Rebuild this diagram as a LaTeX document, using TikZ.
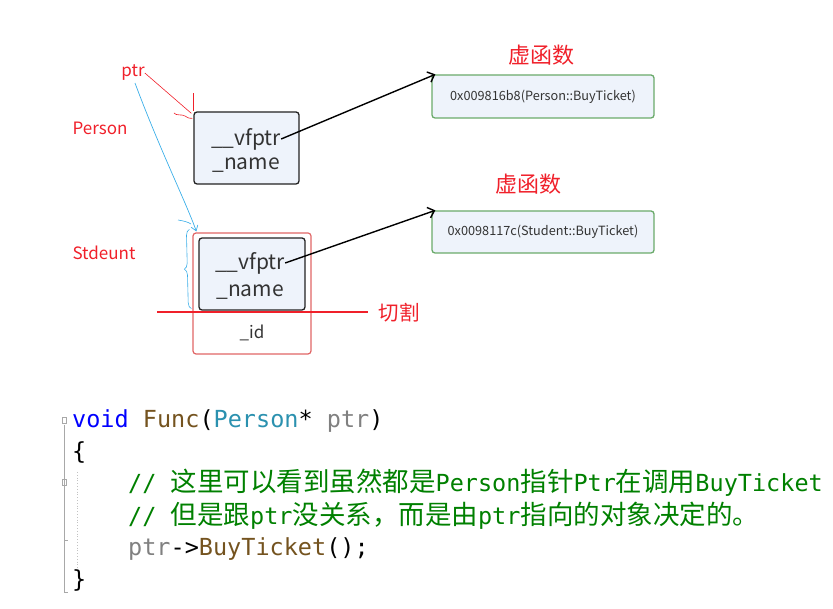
\documentclass[tikz,border=0pt]{standalone}
\usepackage{fontspec}
\setmainfont{Noto Sans CJK SC}
\setmonofont{DejaVu Sans Mono}
\newfontfamily\cjkc{Noto Sans CJK SC}
\usetikzlibrary{arrows.meta,decorations.pathreplacing,calc}
\definecolor{boxfill}{HTML}{EEF3FB}
\definecolor{boxline}{HTML}{222222}
\definecolor{redlab}{HTML}{F0202A}
\definecolor{greenbox}{HTML}{6AAA6A}
\definecolor{redbox}{HTML}{E06666}
\definecolor{bluel}{HTML}{3BAEE8}
\definecolor{kw}{HTML}{0000FF}
\definecolor{fn}{HTML}{74531F}
\definecolor{ty}{HTML}{2B91AF}
\definecolor{var}{HTML}{808080}
\definecolor{cmt}{HTML}{008000}
\definecolor{gut}{HTML}{A8A8A8}
\tikzset{
  membox/.style={draw=boxline, line width=1.3pt, rounded corners=3pt, fill=boxfill, inner sep=0pt},
  fnbox/.style={draw=greenbox, line width=1.3pt, rounded corners=3pt, fill=boxfill, inner sep=0pt, minimum width=222pt, font=\fontsize{12.7}{12.7}\selectfont, text=black!80},
  memtxt/.style={inner sep=0pt, font=\fontsize{21}{21}\selectfont, text=black!80},
  redtxt/.style={inner sep=0pt, text=redlab, font=\fontsize{17}{17}\selectfont},
  virt/.style={inner sep=0pt, text=redlab, font=\fontsize{22}{22}\selectfont},
  ptrarrow/.style={line width=1.4pt, -{Straight Barb[length=6pt,width=11pt]}},
  codeln/.style={inner sep=0pt, anchor=base west, font=\ttfamily\fontsize{23.5}{23.5}\selectfont},
}
\newcommand{\cj}[1]{{\cjkc\fontsize{26.5}{26.5}\selectfont #1}}
\begin{document}
\begin{tikzpicture}[x=1pt,y=-1pt]
\useasboundingbox (0,0) rectangle (833,609);

% labels
\node[redtxt] (ptrl) at (133,73) {ptr};
\node[redtxt] (perl) at (100,128) {Person};
\node[redtxt] (stul) at (104,253) {Stdeunt};

% Person object
\node[membox, minimum width=105pt, minimum height=72pt] (pbox) at (246.5,148) {};
\node[memtxt] (pv) at (246,139) {\_\_vfptr};
\node[memtxt] (pn) at (246,165) {\_name};

% Student object
\node[draw=redbox, line width=1.2pt, rounded corners=3pt, minimum width=118pt, minimum height=121pt, inner sep=0pt] (sbox) at (252,293.5) {};
\node[membox, minimum width=106pt, minimum height=72pt] (sin) at (252,274) {};
\node[memtxt] (sv) at (250,263) {\_\_vfptr};
\node[memtxt] (sn) at (250,292) {\_name};
\node[inner sep=0pt, font=\fontsize{17}{17}\selectfont, text=black!80] (sid) at (252,333) {\_id};

% cut line
\coordinate (cutL) at (157,312);
\coordinate (cutR) at (368,312);
\draw[redlab, line width=2.8pt] (cutL) -- (cutR);
\node[virt, font=\fontsize{20.5}{20.5}\selectfont] (cut) at (399,313) {切割};

% virtual function boxes
\node[virt] (v1) at (541,55) {虚函数};
\node[fnbox, minimum height=43pt] (f1) at (543,96.5) {0x009816b8(Person::BuyTicket)};
\node[virt] (v2) at (528,184) {虚函数};
\node[fnbox, minimum height=42pt] (f2) at (543,232) {0x0098117c(Student::BuyTicket)};

% vfptr arrows
\draw[ptrarrow] (pv.east) -- ($(f1.north west)+(4,0)$);
\draw[ptrarrow] (sv.east) -- ($(f2.north west)+(4,0)$);

% red ptr scribbles
\draw[redlab, line width=0.6pt] (ptrl.east) -- ($(pbox.north west)+(-2,2)$);
\draw[redlab, line width=0.6pt] ($(pbox.north west)+(0,-18)$) -- ($(pbox.north west)+(0,0)$);
\draw[redlab, line width=0.6pt] (174,113) .. controls (176,116) and (182,114) .. (185,116) .. controls (188,118) and (191,119) .. ($(pbox.north west)+(-1,7)$);

% blue ptr arrow to Student
\draw[bluel, line width=0.7pt, -{Straight Barb[length=5pt,width=7pt]}] ($(ptrl.south)+(2,2)$) .. controls (160,150) and (185,200) .. ($(sbox.north west)+(4,-1)$);
\draw[bluel, line width=0.6pt] (178,220) .. controls (184,221) and (188,222) .. (191,224);

% brace
\draw[bluel, line width=0.6pt, decorate, decoration={brace, amplitude=6pt}] ($(sin.south west)+(-7,-2)$) -- ($(sin.north west)+(-9,-8)$);

% code gutter
\draw[gut, line width=0.8pt] (64,425) -- (64,592) -- (68,592);
\draw[gut, line width=0.8pt] (62.5,417) rectangle (66,423);
\draw[gut, line width=0.8pt] (62.5,479) rectangle (66,485);
\draw[gut, line width=0.8pt] (64,540) -- (68,540);
\draw[gut!70, line width=0.8pt, dotted] (77,472) -- (77,572);

% code
\node[codeln] (c1) at (72,428) {\textcolor{kw}{void} \textcolor{fn}{Func}(\textcolor{ty}{Person}* \textcolor{var}{ptr})};
\node[codeln] (c2) at (72,460) {\{};
\node[codeln, text=cmt] (c3) at (128,492) {// \cj{这里可以看到虽然都是}Person\cj{指针}Ptr\cj{在调用}BuyTicket};
\node[codeln, text=cmt] (c4) at (128,524) {// \cj{但是跟}ptr\cj{没关系，而是由}ptr\cj{指向的对象决定的。}};
\node[codeln] (c5) at (128,555) {\textcolor{var}{ptr}->\textcolor{fn}{BuyTicket}();};
\node[codeln] (c6) at (72,587) {\}};
\end{tikzpicture}
\end{document}
